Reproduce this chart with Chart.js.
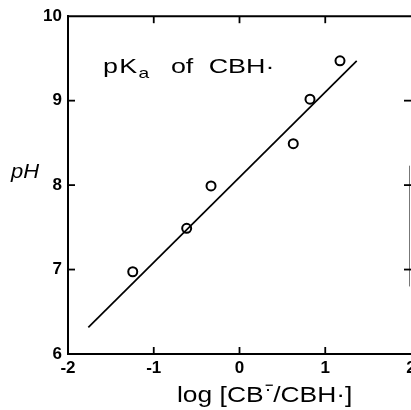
<!DOCTYPE html>
<html><head><meta charset="utf-8">
<script src="https://cdn.jsdelivr.net/npm/chart.js@4/dist/chart.umd.min.js"></script>
<style>
html,body{margin:0;padding:0;background:#fff;overflow:hidden;width:411px;height:410px}
#wrap{position:absolute;left:0;top:0;width:440px;height:410px}
</style>
</head><body><div id="wrap"><canvas id="c" width="440" height="410"></canvas></div>
<script>
// ---- data ----
const logRatio = [-1.245, -0.616, -0.332, 0.627, 0.822, 1.172];
const pHValues = [6.974, 7.488, 7.99, 8.49, 9.018, 9.471];
const fitX = [-1.763, 1.367];
const fitY = [6.316, 9.471];
const xTicks = [-2, -1, 0, 1, 2];
const xTickLabels = ['-2', '-1', '0', '1', '2'];
const yTicks = [6, 7, 8, 9, 10];
const yTickLabels = ['6', '7', '8', '9', '10'];
const yAxisTitle = 'pH';
const xAxisTitle = ['log [CB', '/CBH·]'];
const xAxisTitleSup = ['−', '·'];
const panelTitle = ['p', 'K', 'a', 'of', 'CBH·'];

const FONT = 'Liberation Sans, Arial, sans-serif';

function line(ctx, x1, y1, x2, y2) { ctx.beginPath(); ctx.moveTo(x1, y1); ctx.lineTo(x2, y2); ctx.stroke(); }

const framePlugin = {
  id: 'frame',
  afterDraw(chart) {
    const { ctx, chartArea: a, scales: { x, y } } = chart;
    ctx.save();
    ctx.strokeStyle = '#000'; ctx.lineWidth = 2; ctx.lineCap = 'butt';
    line(ctx, a.left - 1, a.top, a.right, a.top);
    // right border (faint in the scan)
    ctx.lineWidth = 1; ctx.strokeStyle = '#777';
    line(ctx, a.right - 1.5, y.getPixelForValue(8.23), a.right - 1.5, y.getPixelForValue(6.8));
    // inward ticks
    ctx.strokeStyle = '#000'; ctx.lineWidth = 1.8;
    const L = 7;
    xTicks.slice(1, -1).forEach(v => {
      const px = x.getPixelForValue(v);
      line(ctx, px, a.top, px, a.top + L);
      line(ctx, px, a.bottom, px, a.bottom - L);
    });
    yTicks.slice(1, -1).forEach(v => {
      const py = y.getPixelForValue(v);
      line(ctx, a.left, py, a.left + L, py);
      line(ctx, a.right - L, py, a.right, py);
    });

    ctx.fillStyle = '#000';
    ctx.textBaseline = 'alphabetic';
    ctx.textAlign = 'left';

    // panel title: pKa of CBH·
    ctx.save();
    ctx.translate(103, 72.5);
    ctx.scale(1.28, 1);
    ctx.font = '21px ' + FONT;
    let cx = 0;
    ctx.fillText(panelTitle[0], cx, 0); cx += ctx.measureText(panelTitle[0]).width + 1;
    ctx.fillText(panelTitle[1], cx, 0); cx += ctx.measureText(panelTitle[1]).width + 1;
    ctx.font = '15px ' + FONT;
    ctx.fillText(panelTitle[2], cx, 5); cx += ctx.measureText(panelTitle[2]).width;
    ctx.font = '21px ' + FONT;
    cx += 17;
    ctx.fillText(panelTitle[3], cx, 0); cx += ctx.measureText(panelTitle[3]).width;
    cx += 12;
    ctx.fillText(panelTitle[4], cx, 0);
    ctx.restore();

    // y-axis title
    ctx.save();
    ctx.font = 'italic 20px ' + FONT;
    ctx.translate(11, 178);
    ctx.scale(1.1, 1);
    ctx.fillText(yAxisTitle, 0, 0);
    ctx.restore();

    // x-axis title
    ctx.save();
    ctx.translate(177, 402);
    ctx.scale(1.2, 1);
    ctx.font = '22px ' + FONT;
    let tx = 0;
    ctx.fillText(xAxisTitle[0], tx, 0); tx += ctx.measureText(xAxisTitle[0]).width + 1;
    ctx.font = 'bold 12px ' + FONT;
    ctx.fillText(xAxisTitleSup[0], tx, -13);
    ctx.fillText(xAxisTitleSup[1], tx + 1, -8);
    tx += ctx.measureText(xAxisTitleSup[0]).width;
    ctx.font = '22px ' + FONT;
    ctx.fillText(xAxisTitle[1], tx, 0);
    ctx.restore();

    ctx.restore();
  }
};

new Chart(document.getElementById('c'), {
  data: {
    datasets: [
      {
        type: 'scatter',
        data: logRatio.map((v, i) => ({ x: v, y: pHValues[i] })),
        pointRadius: 4.5,
        pointBorderWidth: 2,
        pointBackgroundColor: 'rgba(255,255,255,0)',
        pointBorderColor: '#000',
        showLine: false
      },
      {
        type: 'line',
        data: fitX.map((v, i) => ({ x: v, y: fitY[i] })),
        borderColor: '#000',
        borderWidth: 1.7,
        pointRadius: 0,
        fill: false,
        tension: 0
      }
    ]
  },
  options: {
    responsive: false,
    animation: false,
    devicePixelRatio: 1,
    layout: { padding: { top: 16, right: 29, left: 0, bottom: 0 } },
    plugins: { legend: { display: false }, tooltip: { enabled: false } },
    scales: {
      x: {
        type: 'linear', position: 'bottom', min: -2, max: 2,
        afterBuildTicks: s => { s.ticks = xTicks.map(v => ({ value: v })); },
        afterFit: s => { s.height = 56; },
        grid: { display: false, drawTicks: false },
        border: { display: true, color: '#000', width: 2 },
        ticks: {
          color: '#000', padding: 4, maxRotation: 0, autoSkip: false,
          font: { family: FONT, size: 17, weight: 'bold' },
          callback: v => xTickLabels[xTicks.indexOf(v)]
        }
      },
      y: {
        type: 'linear', position: 'left', min: 6, max: 10,
        afterBuildTicks: s => { s.ticks = yTicks.map(v => ({ value: v })); },
        afterFit: s => { s.width = 68; },
        grid: { display: false, drawTicks: false },
        border: { display: true, color: '#000', width: 2 },
        ticks: {
          color: '#000', padding: 6, autoSkip: false,
          font: { family: FONT, size: 17, weight: 'bold' },
          callback: v => yTickLabels[yTicks.indexOf(v)]
        }
      }
    }
  },
  plugins: [framePlugin]
});
</script>
</body></html>
